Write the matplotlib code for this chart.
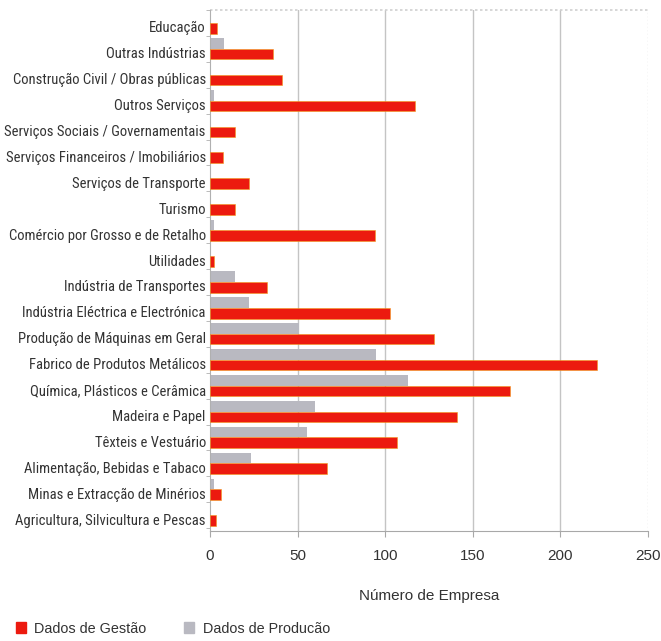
import numpy as np
import matplotlib
matplotlib.use("Agg")
import matplotlib.pyplot as plt
from matplotlib.patches import Patch

# sectors, listed top to bottom as they appear on the chart
sectors = [
    "Educação",
    "Outras Indústrias",
    "Construção Civil / Obras públicas",
    "Outros Serviços",
    "Serviços Sociais / Governamentais",
    "Serviços Financeiros / Imobiliários",
    "Serviços de Transporte",
    "Turismo",
    "Comércio por Grosso e de Retalho",
    "Utilidades",
    "Indústria de Transportes",
    "Indústria Eléctrica e Electrónica",
    "Produção de Máquinas em Geral",
    "Fabrico de Produtos Metálicos",
    "Química, Plásticos e Cerâmica",
    "Madeira e Papel",
    "Têxteis e Vestuário",
    "Alimentação, Bebidas e Tabaco",
    "Minas e Extracção de Minérios",
    "Agricultura, Silvicultura e Pescas",
]
gestao = [4, 36, 41, 117, 14, 7.5, 22, 14, 94, 2.5,
          32.5, 103, 128, 221, 171, 141, 107, 66.5, 6, 3.5]
producao = [0, 8, 0, 2.5, 0, 0, 0, 0, 2.5, 0,
            14, 22, 51, 95, 113, 60, 55.5, 23.5, 2.5, 0]

xticks = [0, 50, 100, 150, 200, 250]

RED = "#ec1a0f"
GREY = "#b9b9c1"
LINE = "#c4c4c4"
NARROW = ["Roboto Condensed", "Archivo Narrow", "PT Sans Narrow",
          "Liberation Sans", "DejaVu Sans"]
REGULAR = ["Arimo", "Liberation Sans", "DejaVu Sans"]

n = len(sectors)
pos = np.arange(n)[::-1]          # top sector gets the highest y
h = 0.41

fig = plt.figure(figsize=(6.61, 6.41), dpi=100)
ax = fig.add_axes([0.3177, 0.1716, 0.6626, 0.8128])

ax.barh(pos + h / 2, producao, height=h, color=GREY, zorder=2)
ax.barh(pos - h / 2, gestao, height=h, color=RED, edgecolor="#f29a1a",
        linewidth=0.4, zorder=3)

ax.set_xlim(0, 250)
ax.set_ylim(-0.61, n - 1 + 0.49)

# vertical grid, last line dotted like the top border
for v in xticks[1:-1]:
    ax.axvline(v, color=LINE, lw=1.0, zorder=1)
ax.axvline(250, color="#d8d8d8", lw=1.0, ls=(0, (1, 1.5)), zorder=1)

for s in ["top", "right"]:
    ax.spines[s].set_visible(False)
ax.axhline(n - 1 + 0.49, color="#d0d0d0", lw=1.2, ls=(0, (1.5, 1.5)),
           clip_on=False)
ax.spines["left"].set_color("#b0b0b0")
ax.spines["bottom"].set_color("#a8a8a8")

ax.set_yticks(pos - 0.15)
ax.set_yticklabels(sectors, family=NARROW, fontsize=10.5, color="#333333")
ax.tick_params(axis="y", length=0, pad=3)
ax.set_yticks(np.arange(n + 1) - 0.5, minor=True)
ax.tick_params(axis="y", which="minor", length=3, color="#b0b0b0")

ax.set_xticks(xticks)
ax.set_xticklabels([str(v) for v in xticks], family=REGULAR,
                   fontsize=11, color="#333333")
ax.tick_params(axis="x", length=4, color="#a8a8a8", pad=9)
ax.set_xlabel("Número de Empresa", family=REGULAR, fontsize=11,
              color="#333333", labelpad=19)

handles = [Patch(color=RED), Patch(color=GREY)]
fig.legend(handles, ["Dados de Gestão", "Dados de Producão"], ncol=2,
           loc="lower left", bbox_to_anchor=(0.004, -0.012), frameon=False,
           handlelength=0.7, handleheight=0.85, handletextpad=0.6,
           columnspacing=2.6, prop={"family": REGULAR, "size": 10.4},
           labelcolor="#333333")

fig.savefig("out.png", dpi=100)
